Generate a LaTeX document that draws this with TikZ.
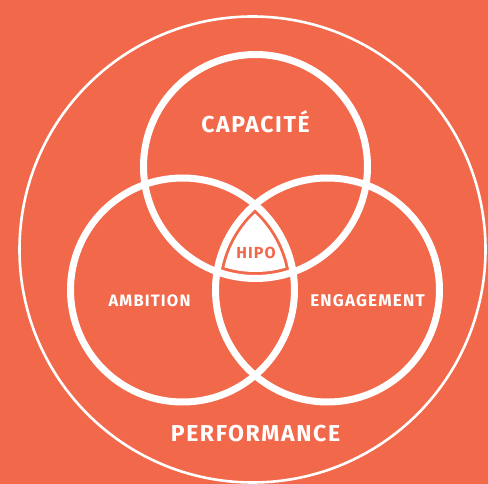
\documentclass[tikz,border=0pt]{standalone}
\usepackage{fontspec}
\setmainfont{Fira Sans}[LetterSpace=7]
\definecolor{bgorange}{RGB}{242,104,74}
\begin{document}
\begin{tikzpicture}[x=1pt,y=-1pt,
  ring/.style={draw=white,line width=7pt},
  lbl/.style={text=white,font=\bfseries,inner sep=0pt,anchor=base}]
\fill[bgorange] (0,0) rectangle (488,484);
\useasboundingbox (0,0) rectangle (488,484);
\draw[white,line width=2.6pt] (252.5,249.5) circle[radius=233];
% HIPO core
\begin{scope}
  \clip (255.5,166.5) circle[radius=105.5];
  \clip (182.5,290) circle[radius=105.5];
  \fill[white] (327.5,290) circle[radius=105.5];
\end{scope}
\draw[ring] (255.5,166.5) circle[radius=112];
\draw[ring] (182.5,290) circle[radius=112];
\draw[ring] (327.5,290) circle[radius=112];
\node[lbl,font=\fontsize{23}{23}\bfseries] (cap) at (255.5,133) {CAPACITÉ};
\node[lbl,font=\fontsize{23}{23}\bfseries] (perf) at (255.5,441) {PERFORMANCE};
\node[lbl,font=\fontsize{16.5}{16.5}\bfseries] (amb) at (149.5,307) {AMBITION};
\node[lbl,font=\fontsize{17}{17}\bfseries] (eng) at (367.5,307) {ENGAGEMENT};
\node[lbl,text=bgorange,font=\fontsize{16}{16}\bfseries] (hipo) at (256,259) {HIPO};
\end{tikzpicture}
\end{document}
